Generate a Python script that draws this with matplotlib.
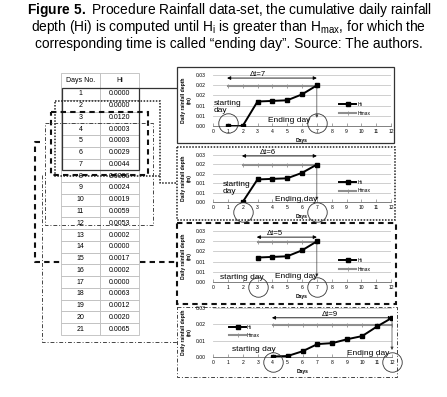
import matplotlib
matplotlib.use('Agg')
import matplotlib.pyplot as plt
from matplotlib.patches import Rectangle

plt.rcParams['font.family'] = ['Liberation Sans', 'DejaVu Sans']
plt.rcParams['mathtext.fontset'] = 'custom'
plt.rcParams['mathtext.rm'] = 'Liberation Sans'
plt.rcParams['mathtext.bf'] = 'Liberation Sans:bold'

# table data
days = list(range(1, 22))
hi = [0.0000, 0.0000, 0.0120, 0.0003, 0.0003, 0.0029, 0.0044, 0.0006, 0.0024, 0.0019,
      0.0059, 0.0053, 0.0002, 0.0000, 0.0017, 0.0002, 0.0000, 0.0063, 0.0012, 0.0020, 0.0065]

# cumulative depth shown in each small chart
start_days = [1, 2, 3, 4]
end_days = [7, 7, 7, 12]
cum_1 = [0.0000, 0.0000, 0.0120, 0.0123, 0.0126, 0.0155, 0.0199]
cum_2 = [0.0000, 0.0120, 0.0123, 0.0126, 0.0155, 0.0199]
cum_3 = [0.0120, 0.0123, 0.0126, 0.0155, 0.0199]
cum_4 = [0.0003, 0.0006, 0.0035, 0.0079, 0.0085, 0.0109, 0.0128, 0.0187, 0.0240]
h_max = 0.0195
delta_labels = ['Δt=7', 'Δt=6', 'Δt=5', 'Δt=9']

W, H = 447, 397
fig = plt.figure(figsize=(W / 100, H / 100), dpi=100)
bg = fig.add_axes([0, 0, 1, 1])
bg.set_xlim(0, W)
bg.set_ylim(H, 0)
bg.axis('off')

# caption
title_lines = [
    r'$\mathbf{Figure\ 5.}$ Procedure Rainfall data-set, the cumulative daily rainfall',
    r'depth (Hi) is computed until H$_\mathrm{i}$ is greater than H$_\mathrm{max}$, for which the',
    'corresponding time is called “ending day”. Source: The authors.',
]
for i, line in enumerate(title_lines):
    bg.text(229, 14 + 17 * i, line, ha='center', va='baseline', fontsize=9.9)

# table of daily depths
tab_l, tab_t, tab_r, tab_b = 61, 73, 139, 335
head_h = 15
row_h = (tab_b - tab_t - head_h) / len(days)
cell_text = [[str(d), f'{v:.4f}'] for d, v in zip(days, hi)]
tab = bg.table(cellText=cell_text, colLabels=['Days No.', 'Hi'], cellLoc='center',
               bbox=[tab_l / W, 1 - tab_b / H, (tab_r - tab_l) / W, (tab_b - tab_t) / H])
tab.auto_set_font_size(False)
tab.set_fontsize(5)
for (r, c), cell in tab.get_celld().items():
    cell.set_edgecolor('#bdbdbd')
    cell.set_linewidth(0.6)
    cell.PAD = 0.02
    if r == 0:
        cell.set_height(cell.get_height() * head_h / row_h)
tab.set_zorder(2)


def row_top(d):
    return tab_t + head_h + (d - 1) * row_h


def row_bot(d):
    return row_top(d) + row_h


solid = dict(color='#333333', lw=0.9, ls='-')
dotted = dict(color='#222222', lw=1.1, ls=(0, (1, 1)))
dashed = dict(color='#111111', lw=1.5, ls=(0, (2.6, 2)))
dashdot = dict(color='#444444', lw=0.7, ls=(0, (4, 2, 1, 2)))
styles = [solid, dotted, dashed, dashdot]


def box(x0, y0, x1, y1, st, z=3):
    bg.add_patch(Rectangle((x0, y0), x1 - x0, y1 - y0, fill=False, zorder=z,
                           edgecolor=st['color'], lw=st['lw'], ls=st['ls']))


def path(xs, ys, st, z=3):
    bg.plot(xs, ys, color=st['color'], lw=st['lw'], ls=st['ls'], zorder=z,
            solid_capstyle='butt')


# boxes round the table rows and their links to the charts
panel_left = 177
box(62, row_top(1), tab_r, row_bot(7), solid)
path([tab_r, panel_left], [row_top(1), row_top(1)], solid)

box(55, row_top(2) + 1, 160, row_bot(7) + 6, dotted)
path([160, 160, panel_left], [row_bot(7) + 6, 183, 183], dotted)

box(51, row_top(3), 148, row_bot(7) + 5, dashed)
path([40, 35, 35, panel_left], [142, 142, 262, 262], dashed, z=1)

box(45, row_top(4), 153, row_bot(12) - 4, dashdot)
path([42, 42, panel_left], [175, 342, 342], dashdot)

# chart frames (left, top, right, bottom) in pixels
frames = [(177, 67, 394, 143), (177, 147, 395, 220), (177, 223, 396, 304), (177, 307, 397, 377)]
for fr, st in zip(frames, styles):
    box(*fr, st)

# plot areas (left, top, right, bottom) in pixels
areas = [(213, 75, 391, 126), (213, 155, 391, 202), (213, 231, 391, 282), (213, 308, 392, 357)]
series = [cum_1, cum_2, cum_3, cum_4]
y_tops = [0.025, 0.025, 0.025, 0.03]
y_ticks = [[0, 0.005, 0.01, 0.015, 0.02, 0.025]] * 3 + [[0, 0.01, 0.02, 0.03]]
y_labels = [['0.00', '0.01', '0.01', '0.02', '0.02', '0.03']] * 3 + [['0.00', '0.01', '0.02', '0.03']]

arrow_y = [0.0235, 0.0245, 0.022, 0.0240]
delta_x = [3.0, 3.7, 4.2, 7.8]
tip_y = [0.004, 0.001, 0.0025, 0.0043]
circle_y = [0.05, -0.21, -0.10, -0.11]
start_txt = [('starting\nday', 0.05, 0.0093), ('starting\nday', 0.68, 0.0074),
             ('starting day', 0.47, 0.0021), ('starting day', 1.29, 0.0043)]
end_txt = [(3.73, 0.0025), (4.2, 0.0011), (4.2, 0.0025), (8.95, 0.0024)]
legend_anchor = [(0.71, 0.47), (0.71, 0.47), (0.71, 0.47), (0.09, 0.66)]

for k in range(4):
    l, t, r, b = areas[k]
    ax = fig.add_axes([l / W, 1 - b / H, (r - l) / W, (b - t) / H])
    ax.patch.set_alpha(0)
    s, e = start_days[k], end_days[k]
    x = list(range(s, e + 1))
    y = series[k]

    hmax_line, = ax.plot(x, [h_max] * len(x), color='#8f8f8f', lw=1.5, marker='|',
                         ms=2.5, mew=0.6, label='Hmax', zorder=3)
    hi_line, = ax.plot(x, y, color='black', lw=1.4, marker='s', ms=3.2, label='Hi', zorder=4)

    ax.set_xlim(0, 12)
    ax.set_ylim(0, y_tops[k])
    ax.set_xticks(range(13))
    ax.set_yticks(y_ticks[k])
    ax.set_yticklabels(y_labels[k])
    ax.yaxis.grid(True, color='#c8c8c8', lw=0.6)
    ax.set_axisbelow(True)
    for side in ['top', 'right', 'left']:
        ax.spines[side].set_visible(False)
    ax.spines['bottom'].set_color('#808080')
    ax.spines['bottom'].set_linewidth(0.7)
    ax.tick_params(axis='x', direction='in', length=2, width=0.5, color='#808080',
                   labelsize=3.6, pad=2)
    ax.tick_params(axis='y', length=0, labelsize=3.6, pad=5)
    ax.set_xlabel('Days', fontsize=3.6, fontweight='bold', labelpad=3)
    ax.set_ylabel('Daily rainfall depth\n(m)', fontsize=3.6, fontweight='bold', labelpad=3)

    ax.legend(handles=[hi_line, hmax_line], loc='upper left', bbox_to_anchor=legend_anchor[k],
              frameon=False, fontsize=3.6, handlelength=3.4, handletextpad=0.2,
              labelspacing=0.7, borderaxespad=0, borderpad=0)

    # time span arrow and label
    ax.annotate('', xy=(e, arrow_y[k]), xytext=(s - 0.05, arrow_y[k]),
                arrowprops=dict(arrowstyle='<|-|>', color='black', lw=0.6,
                                mutation_scale=5, shrinkA=0, shrinkB=0),
                annotation_clip=False)
    ax.text(delta_x[k], arrow_y[k], delta_labels[k], fontsize=5.5, ha='center',
            va='bottom', clip_on=False)

    # drop from the last point to the ending day
    ax.annotate('', xy=(e, tip_y[k]), xytext=(e, y[-1]),
                arrowprops=dict(arrowstyle='-|>', color='#404040', lw=0.5,
                                mutation_scale=4, shrinkA=0, shrinkB=0),
                annotation_clip=False)

    tr = ax.get_xaxis_transform()
    for d in (s, e):
        ax.plot([d], [circle_y[k]], transform=tr, marker='o', ms=14, mfc='none',
                mec='#333333', mew=0.6, clip_on=False, zorder=5)

    txt, tx, ty = start_txt[k]
    ax.text(tx, ty, txt, fontsize=6, ha='left', va='center', linespacing=1.15)
    ax.text(end_txt[k][0], end_txt[k][1], 'Ending day', fontsize=6, ha='left', va='center')

fig.savefig('out.png', dpi=100)
